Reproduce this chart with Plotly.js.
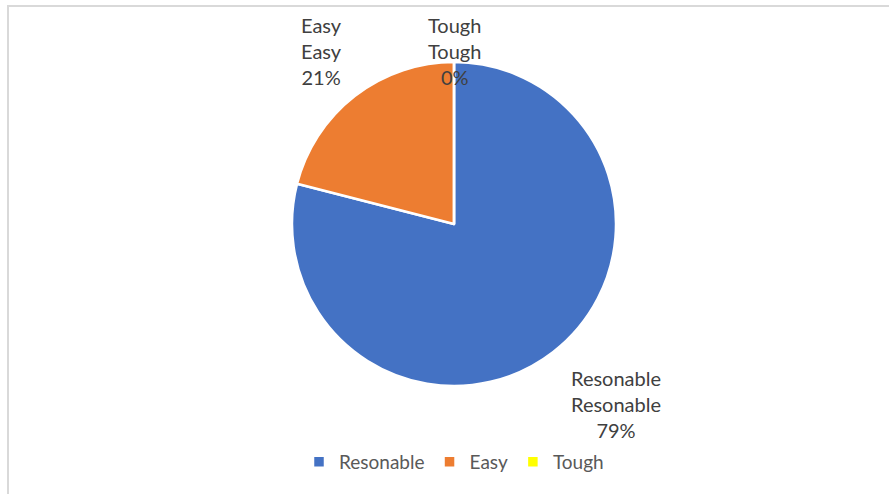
<!DOCTYPE html>
<html><head><meta charset="utf-8">
<script src="https://cdn.plot.ly/plotly-3.0.1.min.js"></script>
<style>
html,body{margin:0;padding:0;background:#fff;overflow:hidden;}
#frame{position:absolute;left:7px;top:5px;width:900px;height:520px;border:2px solid #d9d9d9;box-sizing:border-box;pointer-events:none;z-index:5;}
#chart{position:absolute;left:0;top:0;width:889px;height:494px;}
</style></head>
<body>
<div id="chart"></div>
<div id="frame"></div>
<script>
// Data
const categories = ["Resonable", "Easy", "Tough"];
const values = [79, 21, 0];
const colors = ["#4472C4", "#ED7D31", "#FFFF00"];

const total = values.reduce((a, b) => a + b, 0);
const pct = values.map(v => Math.round(100 * v / total) + "%");

// Label anchor positions (pixels), per category
const labelPos = {
  "Resonable": {x: 616, y: 404},
  "Easy": {x: 321, y: 51},
  "Tough": {x: 455, y: 51}
};
const W = 889, H = 494, mL = 19, mR = 0, mT = 62, mB = 108;
const pw = W - mL - mR, ph = H - mT - mB;
const font = "Lato, 'Open Sans', sans-serif";

const annotations = categories.map((c, i) => ({
  xref: "paper", yref: "paper",
  x: (labelPos[c].x - mL) / pw,
  y: (H - mB - labelPos[c].y) / ph,
  xanchor: "center", yanchor: "middle",
  showarrow: false,
  text: c + "<br>" + c + "<br>" + pct[i],
  font: {family: font, size: 20, color: "#404040"},
  align: "center"
}));

const trace = {
  type: "pie",
  labels: categories,
  values: values,
  sort: false,
  direction: "clockwise",
  rotation: 0,
  textinfo: "none",
  hoverinfo: "label+percent",
  marker: {colors: colors, line: {color: "#ffffff", width: 2.5}},
  showlegend: true
};

const layout = {
  width: W, height: H,
  margin: {l: mL, r: mR, t: mT, b: mB},
  paper_bgcolor: "#ffffff",
  plot_bgcolor: "#ffffff",
  font: {family: font, color: "#595959"},
  showlegend: true,
  legend: {
    orientation: "h",
    x: 0.5, xanchor: "center",
    y: (H - mB - 462) / ph, yanchor: "middle",
    font: {family: font, size: 19, color: "#595959"},
    itemwidth: 30,
    traceorder: "normal"
  },
  annotations: annotations
};

Plotly.newPlot("chart", [trace], layout, {displayModeBar: false, staticPlot: true});
</script>
</body></html>
